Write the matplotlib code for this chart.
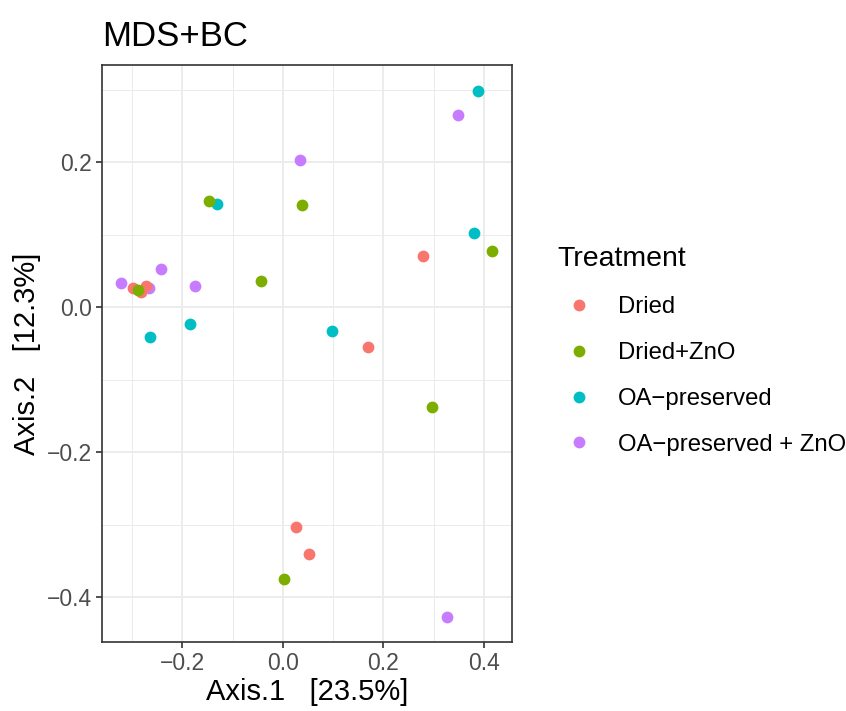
import numpy as np
import matplotlib.pyplot as plt
from matplotlib.lines import Line2D
from matplotlib.ticker import MultipleLocator

plt.rcParams['font.family'] = ['Liberation Sans', 'DejaVu Sans']

# --- DATA ---
groups = ["Dried", "Dried+ZnO", "OA\u2212preserved", "OA\u2212preserved + ZnO"]
colors = ["#F8766D", "#7CAE00", "#00BFC4", "#C77CFF"]

dried_x = [-0.299, -0.283, -0.273, 0.279, 0.169, 0.026, 0.052]
dried_y = [0.026, 0.021, 0.029, 0.070, -0.055, -0.303, -0.341]

dznO_x = [-0.289, -0.147, 0.038, -0.044, 0.416, 0.297, 0.002]
dznO_y = [0.023, 0.146, 0.141, 0.036, 0.077, -0.138, -0.375]

oa_x = [-0.131, -0.265, -0.185, 0.098, 0.380, 0.388]
oa_y = [0.142, -0.041, -0.023, -0.033, 0.102, 0.298]

oaz_x = [-0.322, -0.267, -0.243, -0.175, 0.034, 0.348, 0.326]
oaz_y = [0.033, 0.026, 0.052, 0.029, 0.203, 0.265, -0.428]

series = [(dried_x, dried_y), (dznO_x, dznO_y), (oa_x, oa_y), (oaz_x, oaz_y)]
draw_order = [3, 2, 0, 1]

# --- FIGURE ---
fig = plt.figure(figsize=(8.46, 7.11), dpi=100)
ax = fig.add_axes([102/846, 1 - 642/711, 410/846, 577/711])

for i in draw_order:
    xs, ys = series[i]
    ax.scatter(xs, ys, s=72, color=colors[i], linewidths=0, zorder=3)

ax.set_xlim(-0.360, 0.456)
ax.set_ylim(-0.462, 0.334)

ax.xaxis.set_major_locator(MultipleLocator(0.2))
ax.xaxis.set_minor_locator(MultipleLocator(0.1))
ax.yaxis.set_major_locator(MultipleLocator(0.2))
ax.yaxis.set_minor_locator(MultipleLocator(0.1))
ax.set_xticks([-0.2, 0.0, 0.2, 0.4])
ax.set_xticklabels(["\u22120.2", "0.0", "0.2", "0.4"])
ax.set_yticks([-0.4, -0.2, 0.0, 0.2])
ax.set_yticklabels(["\u22120.4", "\u22120.2", "0.0", "0.2"])

ax.grid(True, which='major', color='#EBEBEB', lw=1.3, zorder=0)
ax.grid(True, which='minor', color='#EBEBEB', lw=0.7, zorder=0)
ax.set_axisbelow(True)

for sp in ax.spines.values():
    sp.set_color('#333333')
    sp.set_linewidth(1.2)

ax.tick_params(which='major', length=4.5, width=1.2, color='#333333',
               labelsize=16.5, labelcolor='#4D4D4D', pad=3)
ax.tick_params(which='minor', length=0)

ax.set_xlabel("Axis.1   [23.5%]", fontsize=21, labelpad=2)
ax.set_ylabel("Axis.2   [12.3%]", fontsize=21, labelpad=4)
ax.set_title("MDS+BC", fontsize=25, loc='left', pad=14)

# legend
handles = [Line2D([], [], marker='o', ls='', color=c, markersize=8.5, markeredgewidth=0)
           for c in colors]
leg = fig.legend(handles, groups, title="Treatment", loc='center left',
                 bbox_to_anchor=(538/846, 1 - 351/711), frameon=False,
                 fontsize=17.2, title_fontsize=20.5, handletextpad=0.75,
                 labelspacing=1.0, borderpad=0.3, handlelength=1.8)
leg._legend_box.align = "left"

fig.savefig("out.png", dpi=100)
